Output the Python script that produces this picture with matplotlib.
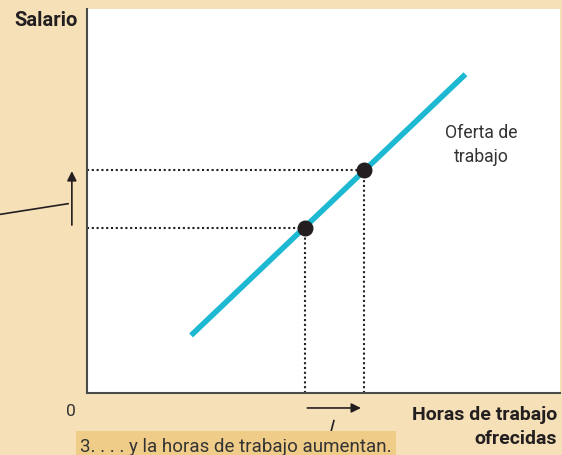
import matplotlib.pyplot as plt
import matplotlib.patches as patches

plt.rcParams['font.family'] = ['Roboto', 'DejaVu Sans']

# supply curve end points and the two marked points (wage vs hours)
supply_x = [2.2, 8.0]
supply_y = [1.5, 8.3]
points_x = [4.6, 5.85]
points_y = [4.3, 5.8]

BG = '#F6E0B8'
BOX = '#F0CC89'
LINE = '#1DB8D1'
DARK = '#231F20'

fig = plt.figure(figsize=(5.62, 4.56), dpi=100)
fig.patch.set_facecolor(BG)

W, H = 562, 456
ax = fig.add_axes([87 / W, (H - 394) / H, (560 - 87) / W, (394 - 10) / H])
ax.set_facecolor('white')
ax.set_xlim(0, 10)
ax.set_ylim(0, 10)
ax.set_xticks([])
ax.set_yticks([])
for s in ['top', 'right']:
    ax.spines[s].set_visible(False)
for s in ['left', 'bottom']:
    ax.spines[s].set_color('#4a4a4a')
    ax.spines[s].set_linewidth(1.5)

# dotted guides
for x, y in zip(points_x, points_y):
    ax.plot([0, x], [y, y], linestyle=(0, (1, 1.3)), color=DARK, lw=1.5)
    ax.plot([x, x], [0, y], linestyle=(0, (1, 1.3)), color=DARK, lw=1.5)

ax.plot(supply_x, supply_y, color=LINE, lw=4, solid_capstyle='butt')
ax.scatter(points_x, points_y, s=110, color=DARK, zorder=5)

ax.text(8.33, 6.48, 'Oferta de\ntrabajo', ha='center', va='center',
        fontsize=12.7, color='#333333', linespacing=1.4)

# arrows outside the axes
ax.annotate('', xy=(-0.32, 5.85), xytext=(-0.32, 4.3),
            arrowprops=dict(arrowstyle='-|>', color=DARK, lw=1.2,
                            mutation_scale=14),
            annotation_clip=False)
ax.plot([-1.9, -0.4], [4.64, 4.93], color=DARK, lw=1.2, clip_on=False)
ax.annotate('', xy=(5.85, -0.39), xytext=(4.6, -0.39),
            arrowprops=dict(arrowstyle='-|>', color=DARK, lw=1.2,
                            mutation_scale=14),
            annotation_clip=False)
ax.plot([5.22, 5.16], [-0.72, -1.0], color=DARK, lw=1.2, clip_on=False)

fig.text(78 / W, 1 - 20 / H, 'Salario', ha='right', va='center',
         fontsize=14.5, fontweight='bold', color=DARK)
fig.text(71 / W, 1 - 412 / H, '0', ha='center', va='center',
         fontsize=12.5, color='#333333')
fig.text(557 / W, 1 - 427 / H, 'Horas de trabajo\nofrecidas', ha='right',
         va='center', fontsize=14, fontweight='bold', color=DARK,
         multialignment='right', linespacing=1.45)

fig.add_artist(patches.Rectangle((76 / W, 0), (396 - 76) / W, (456 - 432) / H,
                                 transform=fig.transFigure, facecolor=BOX,
                                 edgecolor='none'))
fig.text(80 / W, 1 - 447 / H, '3. . . . y la horas de trabajo aumentan.',
         ha='left', va='center', fontsize=13.5, color='#333333')

fig.savefig('out.png', dpi=100, facecolor=BG)
